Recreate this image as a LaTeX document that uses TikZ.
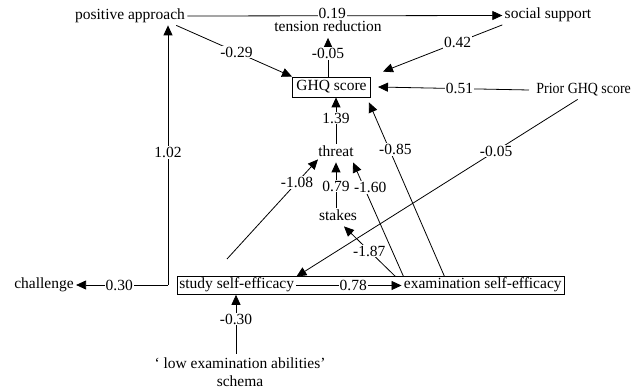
\documentclass[tikz,border=0pt]{standalone}
\usepackage{fontspec}
\setmainfont{Liberation Serif}
\newfontfamily\narrowserif[FakeStretch=0.9]{Liberation Serif}
\usetikzlibrary{arrows.meta,fit}

\begin{document}
\begin{tikzpicture}[x=1pt, y=-1pt, line width=0.8pt,
  every node/.style={font=\fontsize{15.5}{18.5}\selectfont},
  var/.style={inner sep=2pt, text height=10.5pt, text depth=3.5pt},
  boxed/.style={draw, minimum height=20pt, inner xsep=4pt},
  coef/.style={fill=white, inner sep=1pt, text height=10.5pt, text depth=0pt},
  arr/.style={-{Triangle[length=10pt,width=9pt]}}]
        \useasboundingbox (0,0) rectangle (638,390);

        % variables
        \node[var] (posapp) at (130,16) {positive approach};
        \node[var] (social) at (548,15.5) {social support};
        \node[var] (tension) at (328,28.5) {tension reduction};
        \node[boxed] (ghq) at (331.5,87) {GHQ score};
        \node[var, anchor=west, font=\fontsize{15.5}{18.5}\narrowserif] (prior) at (534,90) {Prior GHQ score};
        \node[var] (threat) at (336,153) {threat};
        \node[var] (stakes) at (338,217) {stakes};
        \node[var] (challenge) at (44,285) {challenge};
        \node[var, inner ysep=1.5pt, anchor=west] (study) at (177,285.5) {study self-efficacy};
        \node[var, inner ysep=1.5pt, anchor=east] (exam) at (564,285.5) {examination self-efficacy};
        \node[draw, fit=(study)(exam), inner sep=0pt] (selfeff) {};
        \node[align=center] (schema) at (240,372) {‘ low examination abilities’\\schema};

        \coordinate (bend) at (168,285);
        \coordinate (loose) at (227,259);

        % paths
        \draw[arr] (posapp.east) -- (social.west) node[coef, pos=.46, yshift=3pt] {0.19};
        \draw[arr] (ghq.north -| tension) -- (tension.south) node[coef, pos=.6] {-0.05};
        \draw[arr] ([xshift=-11pt]posapp.south east) -- (ghq.north west) node[coef, pos=.52] {-0.29};
        \draw[arr] (social.south west) -- ([xshift=12pt, yshift=5pt]ghq.north east) node[coef, pos=.375] {0.42};
        \draw[arr] ([xshift=-5pt]prior.west) -- ([xshift=7pt]ghq.east) node[coef, pos=.46] {0.51};
        \draw[arr] (threat.north) -- (threat.north |- ghq.south) node[coef, pos=.55] {1.39};
        \draw[arr] ([xshift=43pt]exam.north west) -- ([xshift=-2pt, yshift=-5pt]ghq.south east) node[coef, pos=.73, xshift=6pt] {-0.85};
        \draw[arr] ([xshift=-6pt]prior.south) -- (study.north east) node[coef, pos=.29] {-0.05};

        \draw[arr] (bend) -- (bend |- posapp.south) node[coef, pos=.51] {1.02};
        \draw[arr] (bend) -- (challenge.east) node[coef, pos=.53] {0.30};

        \draw[arr] (loose) -- ([xshift=2pt, yshift=3pt]threat.south west) node[coef, pos=.77] {-1.08};
        \draw[arr] (stakes.north -| threat) -- (threat.south) node[coef, pos=.48] {0.79};
        \draw[arr] ([xshift=2pt]exam.north west) -- ([xshift=-3pt]threat.south east) node[coef, pos=.78, xshift=6pt] {-1.60};
        \draw[arr] ([xshift=-6pt]exam.north west) -- ([xshift=6pt]stakes.south) node[coef, pos=.51] {-1.87};

        \draw[arr] (study.east) -- (exam.west) node[coef, pos=.54] {0.78};
        \draw[arr] ([xshift=-4pt]schema.north) -- ([xshift=-4pt]schema.north |- selfeff.south) node[coef, pos=.59] {-0.30};
    \end{tikzpicture}
\end{document}
